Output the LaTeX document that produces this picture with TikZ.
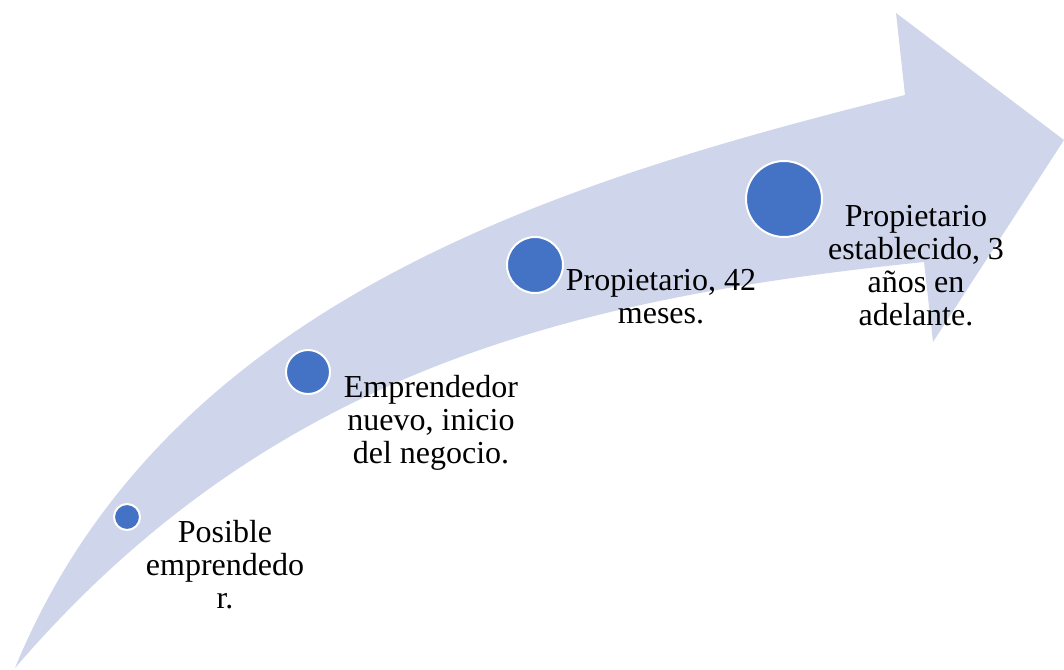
\documentclass[tikz,border=0pt]{standalone}
\usepackage{fontspec}
\setmainfont{Liberation Serif}
\newfontfamily\stagefont{Liberation Serif}
\definecolor{arrowfill}{RGB}{207,213,234}
\definecolor{stagefill}{RGB}{68,114,196}
\begin{document}
\begin{tikzpicture}[x=0.5pt, y=-0.5pt,
        stage/.style={circle, draw=white, line width=1pt, fill=stagefill, inner sep=0pt},
        stagetext/.style={align=center, inner sep=0pt, font=\stagefont\fontsize{16}{16.5}\selectfont}
    ]
        \useasboundingbox (0,0) rectangle (1064,669);

        % Curved arrow
        \fill[arrowfill] (15,668) .. controls (167,298) and (565,180) .. (905,95)
            -- (896,13) -- (1064,140) -- (933,342) -- (924,262)
            .. controls (576,298) and (272,369) .. (15,668) -- cycle;

        % Stages
        \node[stage, minimum size=13pt] (s1) at (127,517) {};
        \node[stage, minimum size=22pt] (s2) at (308,372) {};
        \node[stage, minimum size=28pt] (s3) at (535,265) {};
        \node[stage, minimum size=38pt] (s4) at (784,199) {};

        % Labels
        \node[stagetext] (l1) at (225,565) {Posible\\emprendedo\\r.};
        \node[stagetext] (l2) at (431,423) {Emprendedor\\nuevo, inicio\\del negocio.};
        \node[stagetext] (l3) at (661,297) {Propietario, 42\\meses.};
        \node[stagetext] (l4) at (916,266) {Propietario\\establecido, 3\\años en\\adelante.};
    \end{tikzpicture}
\end{document}
